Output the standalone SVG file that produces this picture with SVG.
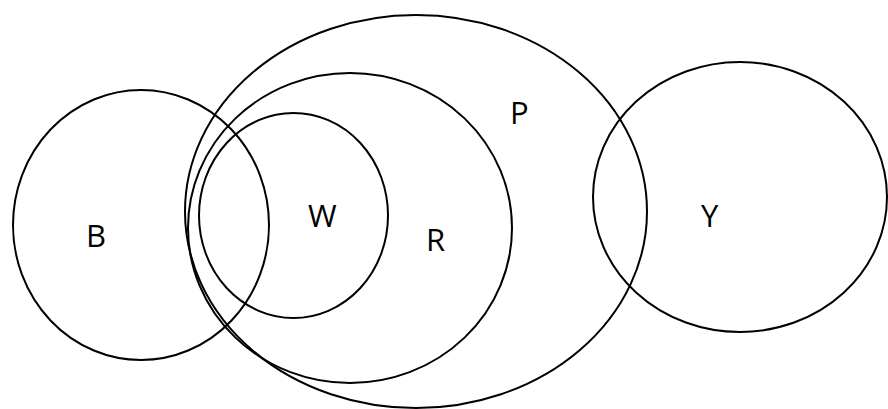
<svg xmlns="http://www.w3.org/2000/svg" width="888" height="409" viewBox="0 0 888 409">
<style>
.s{fill:none;stroke:#000;stroke-width:2}
.t{font-family:"Open Sans","Liberation Sans",sans-serif;font-size:31px;fill:#000}
</style>
<rect width="888" height="409" fill="#fff"/>
<g id="P"><ellipse class="s" cx="416" cy="211.5" rx="231" ry="196.5"/><text class="t" x="510" y="124">P</text></g>
<g id="R"><ellipse class="s" cx="350" cy="228" rx="162" ry="155"/><text class="t" x="426" y="251">R</text></g>
<g id="W"><ellipse class="s" cx="293.5" cy="215.5" rx="94.5" ry="102.5"/><text class="t" x="308" y="227">W</text></g>
<g id="B"><ellipse class="s" cx="141" cy="225" rx="128" ry="135"/><text class="t" x="86" y="247">B</text></g>
<g id="Y"><ellipse class="s" cx="740" cy="197" rx="147" ry="135"/><text class="t" x="701" y="227">Y</text></g>
<g id="connectors"/>
</svg>
